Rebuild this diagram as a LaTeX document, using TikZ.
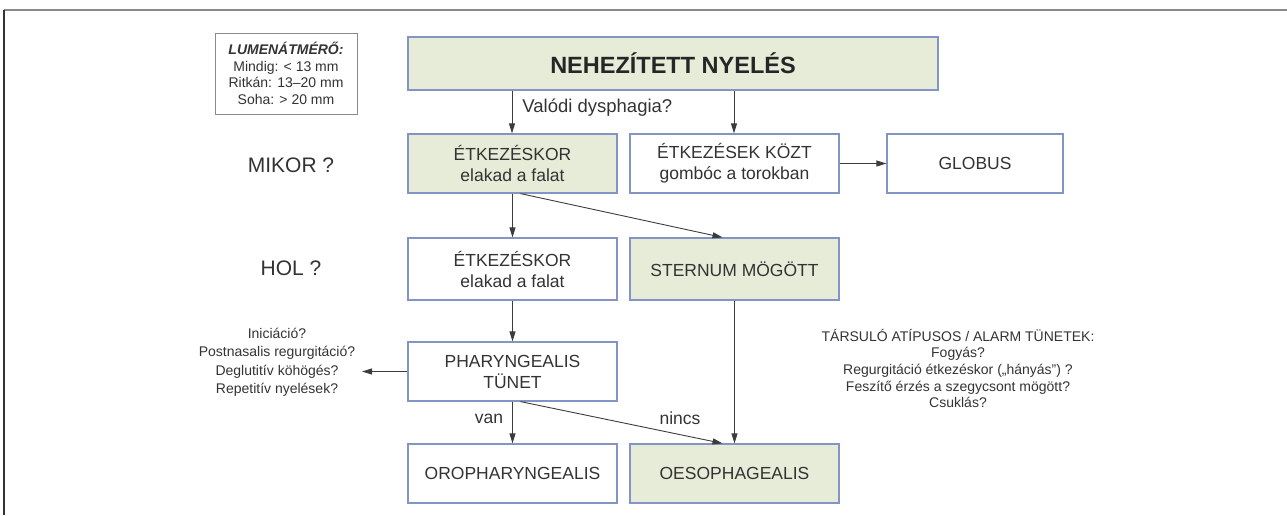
\documentclass[tikz,border=0pt]{standalone}
\usepackage{fontspec}
\setmainfont{Liberation Sans}
\usetikzlibrary{arrows.meta,calc}
\definecolor{boxline}{HTML}{8494C4}
\definecolor{greenfill}{HTML}{E7ECD9}
\definecolor{txt}{HTML}{333333}
\definecolor{arr}{HTML}{3C3C3C}
\definecolor{frametop}{HTML}{8A8A8A}
\definecolor{frameleft}{HTML}{333333}
\begin{document}
\begin{tikzpicture}[x=1pt,y=-1pt,
  box/.style={draw=boxline, line width=1.2pt, rectangle, inner sep=0pt, align=center, text=txt,
    font=\fontsize{17.5}{21}\selectfont, minimum width=209pt, minimum height=59pt},
  gbox/.style={box, fill=greenfill},
  arrow/.style={draw=arr, line width=0.9pt, -{Triangle[length=10pt,width=6pt]}},
  side/.style={text=txt, align=center, inner sep=0pt, font=\fontsize{14}{18.5}\selectfont},
  lbl/.style={text=txt, inner sep=0pt, font=\fontsize{17.5}{21}\selectfont},
  big/.style={text=txt, inner sep=0pt, font=\fontsize{21}{25}\selectfont}]
\useasboundingbox (0,0) rectangle (1287,515);
% frame (top and left only)
\draw[frametop, line width=1.6pt] (4,10) -- (1287,10);
\draw[frameleft, line width=1.6pt] (4,10) -- (4,515);

% lumen box
\node[draw=frametop, line width=1pt, fill=white, inner sep=0pt, minimum width=142pt, minimum height=81pt,
  align=center, text=txt, font=\fontsize{14}{16.5}\selectfont] (lumen) at (286,73.5)
  {\textbf{\textit{LUMENÁTMÉRŐ:}}\\Mindig: < 13 mm\\Ritkán: 13–20 mm\\Soha: > 20 mm};

% title
\node[gbox, minimum width=530pt, minimum height=53pt, font=\fontsize{23.5}{28}\selectfont\bfseries, text=black!85] (title) at (673,63.5) {NEHEZÍTETT NYELÉS};

% row 2
\node[gbox] (r2a) at (512.5,163.5) {ÉTKEZÉSKOR\\elakad a falat};
\node[box] (r2b) at (734.5,163.5) {ÉTKEZÉSEK KÖZT\\gombóc a torokban};
\node[box, minimum width=176pt] (globus) at (975,163.5) {GLOBUS};

% row 3
\node[box, minimum height=62pt] (r3a) at (512.5,269) {ÉTKEZÉSKOR\\elakad a falat};
\node[gbox, minimum height=62pt] (stern) at (734.5,269) {STERNUM MÖGÖTT};

% row 4
\node[box] (phar) at (512.5,371.5) {PHARYNGEALIS\\TÜNET};

% row 5
\node[box] (oro) at (512.5,473.5) {OROPHARYNGEALIS};
\node[gbox] (oeso) at (734.5,473.5) {OESOPHAGEALIS};

% side labels
\node[big] (mikor) at (291,165) {MIKOR ?};
\node[big] (hol) at (291,268) {HOL ?};

\node[side] (pharq) at (277,362.5) {Iniciáció?\\Postnasalis regurgitáció?\\Deglutitív köhögés?\\Repetitív nyelések?};
\node[side, font=\fontsize{14}{16.7}\selectfont] (alarm) at (958,368.5) {TÁRSULÓ ATÍPUSOS / ALARM TÜNETEK:\\Fogyás?\\Regurgitáció étkezéskor („hányás”) ?\\Feszítő érzés a szegycsont mögött?\\Csuklás?};

% arrows
\draw[arrow] (title.south -| 512,0) -- (r2a.north -| 512,0) node[lbl, anchor=west, pos=0.4, xshift=10pt, font=\fontsize{18.5}{22}\selectfont] (valodi) {Valódi dysphagia?};
\draw[arrow] (title.south -| 734,0) -- (r2b.north -| 734,0);
\draw[arrow] (r2b.east) -- (globus.west);
\draw[arrow] (r2a.south) -- (r3a.north);
\coordinate (d1s) at ($(r2a.south)+(8,0)$);
\coordinate (d1e) at ($(stern.north)+(-12,0)$);
\draw[arrow] (d1s) -- (d1e);
\draw[arrow] (r3a.south) -- (phar.north);
\coordinate (pq) at (362,371.5);
\draw[arrow] (phar.west) -- (pq);
\draw[arrow] (phar.south) -- (oro.north) node[lbl, midway, anchor=east, xshift=-9pt, yshift=4pt] (van) {van};
\coordinate (d2s) at ($(phar.south)+(8,0)$);
\coordinate (d2e) at ($(oeso.north)+(-12,0)$);
\draw[arrow] (d2s) -- (d2e);
\node[lbl] (nincs) at (680,418) {nincs};
\draw[arrow] (stern.south) -- (oeso.north);
\end{tikzpicture}
\end{document}
